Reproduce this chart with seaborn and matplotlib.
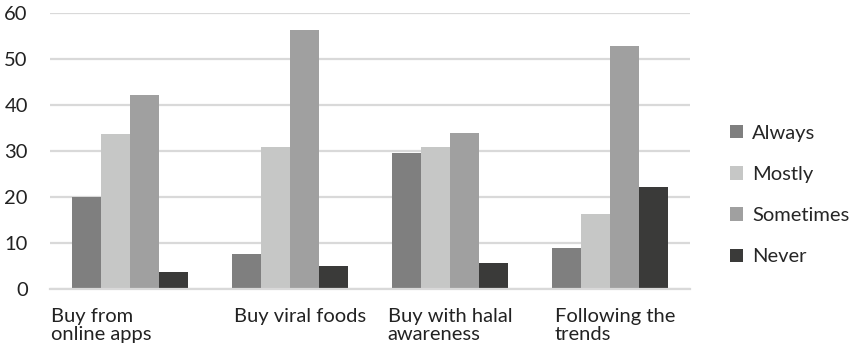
import matplotlib
matplotlib.use("Agg")
import matplotlib.pyplot as plt
import matplotlib.transforms as mtransforms
import pandas as pd
import seaborn as sns

categories = ["Buy from\nonline apps", "Buy viral foods", "Buy with halal\nawareness", "Following the\ntrends"]
always = [20.0, 7.6, 29.6, 8.9]
mostly = [33.7, 30.9, 30.9, 16.3]
sometimes = [42.1, 56.4, 33.9, 52.9]
never = [3.7, 4.9, 5.5, 22.1]
series_names = ["Always", "Mostly", "Sometimes", "Never"]
colors = ["#7f7f7f", "#c6c7c6", "#a0a0a0", "#3a3a39"]
y_ticks = [0, 10, 20, 30, 40, 50, 60]

rows = []
for name, vals in zip(series_names, [always, mostly, sometimes, never]):
    for cat, v in zip(categories, vals):
        rows.append({"category": cat, "response": name, "value": v})
df = pd.DataFrame(rows)

sns.set_theme(style="white")
plt.rcParams["font.family"] = ["Lato", "DejaVu Sans"]
FS = 14.5

fig = plt.figure(figsize=(8.51, 3.48), dpi=100)
ax = fig.add_axes([50 / 851, 1 - 288.7 / 348, 640 / 851, (288.7 - 13.3) / 348])

sns.barplot(data=df, x="category", y="value", hue="response",
            order=categories, hue_order=series_names, palette=colors,
            saturation=1, width=0.725, gap=0, ax=ax, errorbar=None,
            edgecolor="none", linewidth=0)

ax.set_xlim(-0.5, len(categories) - 0.5)
ax.set_ylim(0, 60)
ax.set_yticks(y_ticks)
ax.set_yticklabels([str(t) for t in y_ticks], fontsize=FS, color="#222222")
ax.yaxis.grid(True, color="#d9d9d9", linewidth=1.6)
ax.set_axisbelow(True)
for side in ["top", "right", "left"]:
    ax.spines[side].set_visible(False)
ax.spines["bottom"].set_color("#d9d9d9")
ax.spines["bottom"].set_linewidth(1.6)
ax.tick_params(axis="both", length=0)
ax.tick_params(axis="y", pad=16)
ax.tick_params(axis="x", pad=14)
ax.set_xlabel("")
ax.set_ylabel("")

labels = ax.get_xticklabels()
for lab in labels:
    lab.set_fontsize(FS)
    lab.set_color("#222222")
    lab.set_multialignment("left")
    lab.set_linespacing(1.05)
# horizontal nudges (pixels) for the category labels
shifts = [-29, 10, 0, 5]
for lab, s in zip(labels, shifts):
    lab.set_transform(lab.get_transform() +
                      mtransforms.ScaledTranslation(s / 100, 0, fig.dpi_scale_trans))

handles, lbls = ax.get_legend_handles_labels()
ax.legend(handles, lbls, loc="center left", bbox_to_anchor=(1.05, 0.34),
          frameon=False, fontsize=FS, handlelength=0.65, handleheight=0.65,
          handletextpad=0.45, labelspacing=1.2, borderaxespad=0)

fig.savefig("out.png", dpi=100)
